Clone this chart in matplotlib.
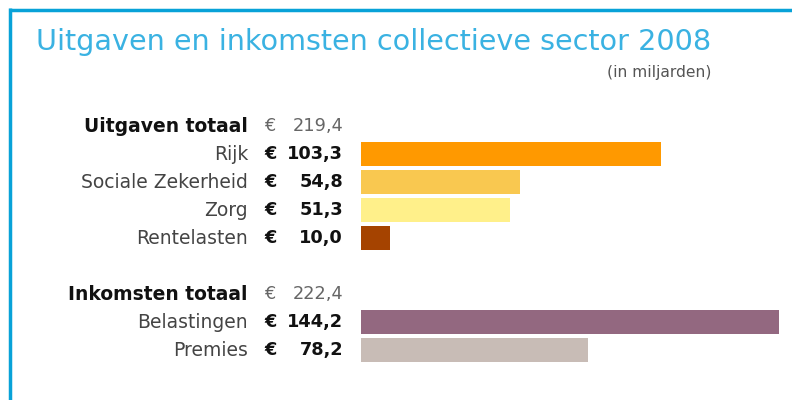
import matplotlib
matplotlib.use("Agg")
import matplotlib.pyplot as plt
import matplotlib.transforms as mtransforms
from matplotlib.lines import Line2D

# data (in miljarden euro)
uitgaven_labels = ["Rijk", "Sociale Zekerheid", "Zorg", "Rentelasten"]
uitgaven_values = [103.3, 54.8, 51.3, 10.0]
uitgaven_colors = ["#ff9900", "#f9c850", "#fff08a", "#a54300"]
uitgaven_totaal = 219.4

inkomsten_labels = ["Belastingen", "Premies"]
inkomsten_values = [144.2, 78.2]
inkomsten_colors = ["#936880", "#c8bcb6"]
inkomsten_totaal = 222.4

title = "Uitgaven en inkomsten collectieve sector 2008"
subtitle = "(in miljarden)"


def fmt_nl(v):
    return ("%.1f" % v).replace(".", ",")


W, H = 792, 400
fig = plt.figure(figsize=(W / 100, H / 100), dpi=100)
fig.patch.set_facecolor("white")

# axes: x=0 at pixel 361, 2.9 px per miljard; rows 28 px apart starting at y=112
px_per_unit = 2.9
xmax = 145
n_rows = 9
ax = fig.add_axes([361 / W, 1 - (112 + n_rows * 28) / H,
                   xmax * px_per_unit / W, n_rows * 28 / H])
ax.set_xlim(0, xmax)
ax.set_ylim(n_rows - 0.5, -0.5)
ax.axis("off")

# row layout: totaal row, items, blank row, totaal row, items
rows_u = list(range(1, 1 + len(uitgaven_labels)))
row_ink_tot = len(uitgaven_labels) + 2
rows_i = [row_ink_tot + 1 + i for i in range(len(inkomsten_labels))]

ax.barh(rows_u, uitgaven_values, height=24 / 28, color=uitgaven_colors)
ax.barh(rows_i, inkomsten_values, height=24 / 28, color=inkomsten_colors)

tr = mtransforms.blended_transform_factory(fig.transFigure, ax.transData)
lab_x = 248 / W
eur_x = 264 / W
val_x = 343 / W
fs = 13.5      # labels
fs_val = 12.8  # euro sign + numbers
fam = "DejaVu Sans"


def head_row(row, label, total):
    ax.text(lab_x, row, label, transform=tr, ha="right", va="center",
            fontsize=fs, fontweight="bold", color="#111111", family=fam)
    ax.text(eur_x, row, "€", transform=tr, ha="left", va="center",
            fontsize=fs_val, color="#666666", family=fam)
    ax.text(val_x, row, fmt_nl(total), transform=tr, ha="right", va="center",
            fontsize=fs_val, color="#666666", family=fam)


def item_rows(rows, labels, values):
    for r, lab, v in zip(rows, labels, values):
        ax.text(lab_x, r, lab, transform=tr, ha="right", va="center",
                fontsize=fs, color="#444444", family=fam)
        ax.text(eur_x, r, "€", transform=tr, ha="left", va="center",
                fontsize=fs_val, fontweight="bold", color="#111111", family=fam)
        ax.text(val_x, r, fmt_nl(v), transform=tr, ha="right", va="center",
                fontsize=fs_val, fontweight="bold", color="#111111", family=fam)


head_row(0, "Uitgaven totaal", uitgaven_totaal)
item_rows(rows_u, uitgaven_labels, uitgaven_values)
head_row(row_ink_tot, "Inkomsten totaal", inkomsten_totaal)
item_rows(rows_i, inkomsten_labels, inkomsten_values)

# title block
fig.text(36 / W, 1 - 42 / H, title, ha="left", va="center",
         fontsize=20.6, color="#3ab2e2", family=fam)
fig.text(711 / W, 1 - 73 / H, subtitle, ha="right", va="center",
         fontsize=11.2, color="#555555", family=fam)

# frame lines top and left
fig.add_artist(Line2D([9 / W, 1], [1 - 9.5 / H, 1 - 9.5 / H],
                      transform=fig.transFigure, color="#08a2d8", lw=2.5,
                      solid_capstyle="butt"))
fig.add_artist(Line2D([9.5 / W, 9.5 / W], [0, 1 - 8 / H],
                      transform=fig.transFigure, color="#08a2d8", lw=2.5,
                      solid_capstyle="butt"))

fig.savefig("out.png", dpi=100, facecolor="white")
